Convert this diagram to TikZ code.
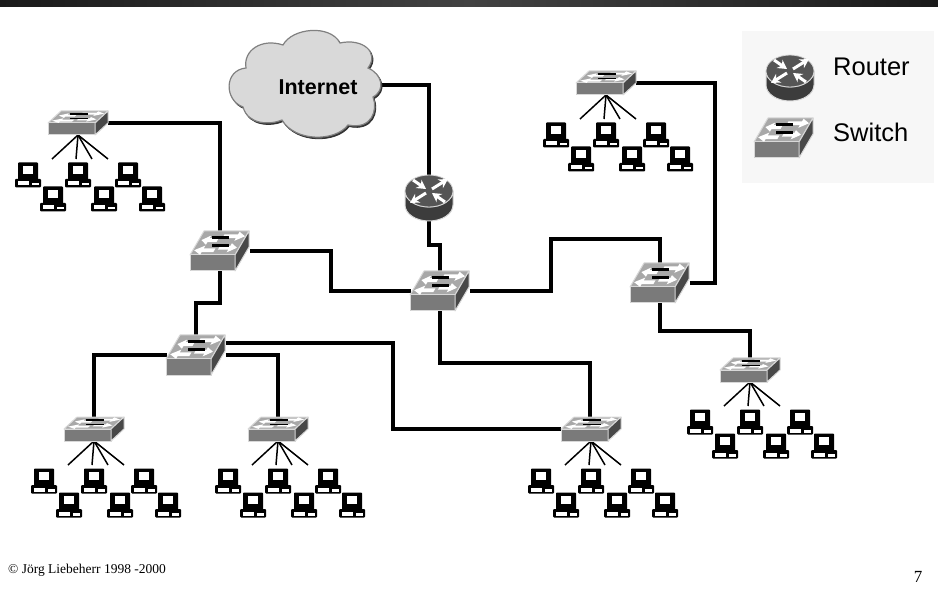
\documentclass[tikz,border=0pt]{standalone}
\usepackage{fontspec}
\setmainfont{Liberation Sans}
\newfontfamily\tmsfont{Liberation Serif}
\usetikzlibrary{arrows.meta}
\definecolor{swtop}{HTML}{A8A8A8}
\definecolor{swfront}{HTML}{7A7A7A}
\definecolor{swside}{HTML}{484848}
\definecolor{swedge}{HTML}{D8D8D8}
\definecolor{rtbody}{HTML}{3C3C3C}
\definecolor{rttop}{HTML}{555555}
\definecolor{cloudfill}{HTML}{D9D9D9}
\definecolor{legendbg}{HTML}{F7F7F7}
\definecolor{bardark}{HTML}{1A1A1A}
\definecolor{barmid}{HTML}{424242}
\newcommand\SwAr[4]{\fill[white] (#1,#4-.08)--(#2,#4-.08)--(#2,#4-.19)--(#3,#4)--(#2,#4+.19)--(#2,#4+.08)--(#1,#4+.08)--cycle;}
\newcommand\SwIcon[6]{%
 \begin{scope}[shift={(#5,#6)}]
  \path[fill=swtop,draw=swedge,line width=1pt,line join=round] (0,0)--(#1,0)--(#1+#2,-#3)--(#2,-#3)--cycle;
  \path[fill=swfront,draw=swedge,line width=1pt,line join=round] (0,0)--(#1,0)--(#1,#4)--(0,#4)--cycle;
  \path[fill=swside,draw=swedge,line width=1pt,line join=round] (#1,0)--(#1+#2,-#3)--(#1+#2,#4-#3)--(#1,#4)--cycle;
  \begin{scope}[x={(#1pt,0pt)},y={(#2pt,#3pt)}]
   \SwAr{.5}{.8}{.98}{.78}
   \SwAr{.42}{.22}{.06}{.62}
   \SwAr{.55}{.78}{.95}{.3}
   \SwAr{.48}{.22}{.03}{.2}
   \fill[black] (.28,.68) rectangle (.62,.8);
   \fill[black] (.38,.33) rectangle (.72,.45);
  \end{scope}
 \end{scope}}
\tikzset{
 x=1pt,y=-1pt,
 bigsw/.pic={\SwIcon{45}{14}{24}{16}{-30}{4}},
 smallsw/.pic={\SwIcon{47}{13}{12}{12}{-30}{0}},
 pcicon/.pic={
  \fill[black,rounded corners=.8pt] (-10,-12.5) rectangle (10,6);
  \fill[white] (-5,-9) rectangle (5,-1);
  \fill[black,rounded corners=1pt] (-13,4) rectangle (13,12.5);
  \fill[white] (-10.5,6.5) rectangle (10.5,10.5);
  \fill[black] (1,6.5) rectangle (4,10.5);
  \fill[black] (1,6.5) rectangle (10.5,8);
 },
 cluster/.pic={
  \foreach \dx in {-26,-2,14,30}{\draw[black,line width=1.5pt] (0,12)--(\dx,36);}
  \pic at (0,0) {smallsw};
  \foreach \px/\py in {-50/52,0/52,50/52,-25/76,26/76,74/76}{\pic at (\px,\py) {pcicon};}
 },
 routericon/.pic={
  \fill[rtbody,draw=swedge,line width=1pt] (-24,-7)--(-24,7) arc[start angle=180,end angle=360,x radius=24,y radius=-16]--(24,-7) arc[start angle=0,end angle=-180,x radius=24,y radius=-16]--cycle;
  \fill[rttop,draw=swedge,line width=.8pt] (0,-7) ellipse[x radius=24,y radius=16];
  \begin{scope}[shift={(0,-7)}]
   \draw[white,line width=3pt,-{Stealth[length=9pt,width=10pt]}] (-16,-11)--(-3,-2);
   \draw[white,line width=3pt,-{Stealth[length=9pt,width=10pt]}] (3,-2)--(19,-12);
   \draw[white,line width=3pt,-{Stealth[length=9pt,width=10pt]}] (-3,2)--(-19,12);
   \draw[white,line width=3pt,-{Stealth[length=9pt,width=10pt]}] (16,11)--(3,2);
  \end{scope}
 },
 bigbox/.style={minimum width=59pt,minimum height=40pt,inner sep=0pt,outer sep=0pt},
 smallbox/.style={minimum width=60pt,minimum height=24pt,inner sep=0pt,outer sep=0pt},
 rtbox/.style={minimum width=48pt,minimum height=46pt,inner sep=0pt,outer sep=0pt},
 wire/.style={draw=black,line width=4pt,line join=miter},
 legendtext/.style={font=\fontsize{25.5}{25.5}\selectfont,anchor=west,inner sep=0pt,text=black},
}
\begin{document}
\begin{tikzpicture}
\useasboundingbox (0,0) rectangle (938,596);
\fill[white] (0,0) rectangle (938,596);
\fill[left color=bardark,right color=bardark,middle color=barmid] (0,0) rectangle (938,7);
\fill[legendbg] (742,31) rectangle (934,183);
% anchors
\node[bigbox] (s1) at (220,251) {};
\node[bigbox] (s2) at (196,355) {};
\node[bigbox] (s3) at (440,291) {};
\node[bigbox] (s4) at (660,283) {};
\node[smallbox] (t1) at (78,123) {};
\node[smallbox] (t2) at (606,83) {};
\node[smallbox] (b1) at (94,429) {};
\node[smallbox] (b2) at (278,429) {};
\node[smallbox] (b3) at (591,429) {};
\node[smallbox] (b4) at (750,370) {};
\node[rtbox] (r1) at (429,198) {};
\coordinate (cl) at (381,85);
% connectors
\draw[wire] (t1.east) -| (s1.north);
\draw[wire] (s1.south) -- ++(0,32) -| (s2.north);
\draw[wire] (s1.east) -- ++(81,0) |- (s3.west);
\draw[wire] (s2.west) -| (b1.north);
\draw[wire] (s2.east) -| (b2.north);
\draw[wire] ([yshift=12pt]s2.east) -- ++(167,0) |- (b3.west);
\draw[wire] (s3.south) -- ++(0,52) -| ([xshift=-1pt]b3.north);
\draw[wire] (s3.east) -- ++(81,0) |- ++(0,-52) -| (s4.north);
\draw[wire] (s4.east) -- ++(25,0) |- (t2.east);
\draw[wire] (s4.south) -- ++(0,28) -| (b4.north);
\draw[wire] (cl) -| (r1.north);
\draw[wire] (r1.south) -- ++(0,24) -| (s3.north);
% cloud
\def\cloudpath{(246,68) .. controls (243,50) and (262,38) .. (283,45) .. controls (292,28) and (330,24) .. (340,43) .. controls (362,38) and (380,52) .. (368,68) .. controls (382,74) and (386,90) .. (373,97) .. controls (378,110) and (372,130) .. (348,125) .. controls (335,142) and (295,142) .. (282,120) .. controls (270,125) and (248,125) .. (243,107) .. controls (224,100) and (224,70) .. (246,68) -- cycle}
\begin{scope}[shift={(1.2,1.6)}]
 \path[fill=black!80,draw=black!80,line width=.8pt] \cloudpath;
\end{scope}
\path[fill=cloudfill,draw=black!50,line width=1.2pt] \cloudpath;
\node[font=\bfseries\fontsize{21.5}{21.5}\selectfont,inner sep=0pt] (inet) at (318,87) {Internet};
% icons
\pic at (s1) {bigsw};
\pic at (s2) {bigsw};
\pic at (s3) {bigsw};
\pic at (s4) {bigsw};
\pic at (t1) {cluster};
\pic at (t2) {cluster};
\pic at (b1) {cluster};
\pic at (b2) {cluster};
\pic at (b3) {cluster};
\pic at (b4) {cluster};
\pic at (r1) {routericon};
% legend
\pic at (790,78) {routericon};
\pic at (784,138) {bigsw};
\node[legendtext] (lr) at (833,67) {Router};
\node[legendtext] (ls) at (833,132) {Switch};
% footer
\node[font=\tmsfont\fontsize{13.5}{13.5}\selectfont,anchor=west,inner sep=0pt] (cp) at (8,570) {© Jörg Liebeherr 1998 -2000};
\node[font=\tmsfont\fontsize{17}{17}\selectfont,inner sep=0pt] (pg) at (918,577) {7};
\end{tikzpicture}
\end{document}
